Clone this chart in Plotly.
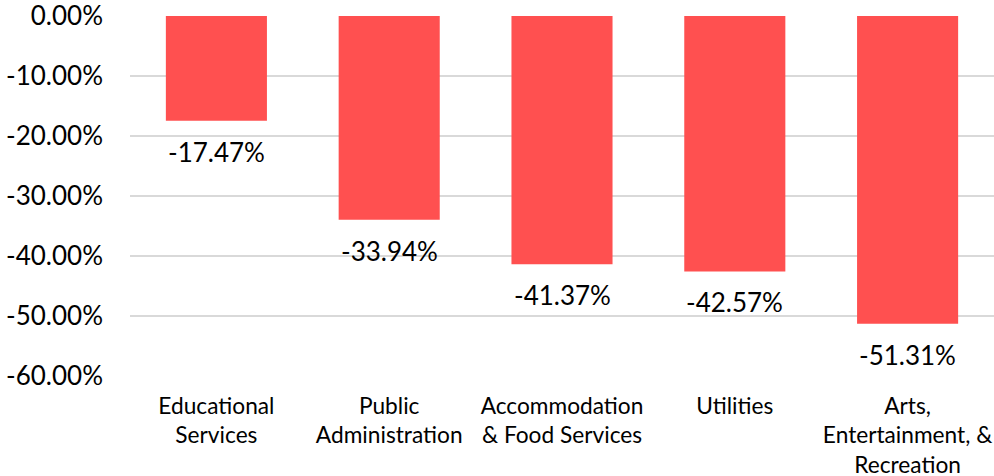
import plotly.graph_objects as go

categories = ["Educational<br>Services", "Public<br>Administration", "Accommodation<br>& Food Services",
              "Utilities", "Arts,<br>Entertainment, &<br>Recreation"]
values = [-17.47, -33.94, -41.37, -42.57, -51.31]
tick_vals = [0, -10, -20, -30, -40, -50, -60]
tick_text = ["0.00%", "-10.00%", "-20.00%", "-30.00%", "-40.00%", "-50.00%", "-60.00%"]

FONT = "Lato"

fig = go.Figure(go.Bar(
    x=categories, y=values, marker=dict(color="#FF5050", line=dict(width=0)),
    hoverinfo="skip",
))

for c, v in zip(categories, values):
    fig.add_annotation(x=c, y=v, text=f"{v:.2f}%", showarrow=False, yanchor="top", yshift=-13,
                       font=dict(family=FONT, size=26, color="#000000"))

fig.update_layout(
    width=994, height=476,
    margin=dict(l=130, r=0, t=16, b=100),
    paper_bgcolor="white", plot_bgcolor="white",
    bargap=0.415, showlegend=False,
    font=dict(family=FONT, color="#000000"),
)
fig.update_yaxes(range=[-60, 0], tickvals=tick_vals, ticktext=tick_text, automargin=False,
                 ticklabeloverflow="allow",
                 showgrid=True, gridcolor="#D9D9D9", gridwidth=1.5, zeroline=False,
                 tickfont=dict(family=FONT, size=26, color="#000000"), ticklabelstandoff=26, showline=False)
fig.update_xaxes(tickfont=dict(family=FONT, size=22.7, color="#000000"), ticklabelstandoff=14, automargin=False,
                 ticklabeloverflow="allow",
                 showline=False, showgrid=False, tickangle=0)

fig.write_html("out.html", config={"displayModeBar": False},
               post_script="document.body.style.margin='0';document.body.style.overflow='hidden';")
